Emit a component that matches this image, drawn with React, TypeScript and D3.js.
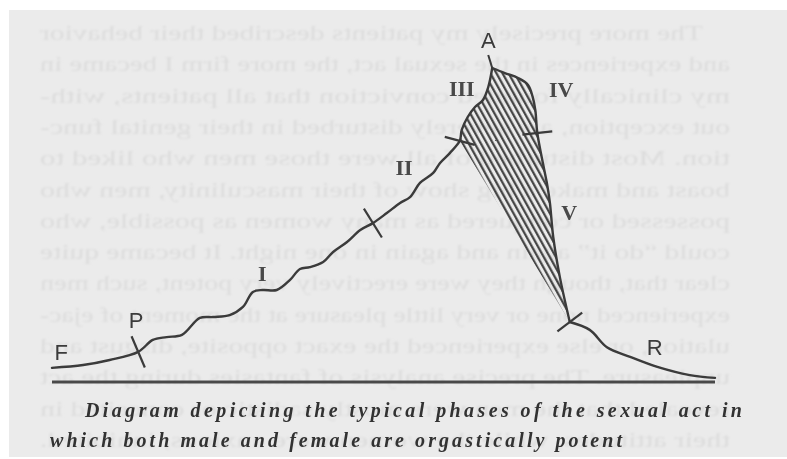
import React, { useRef, useEffect } from "react";
import * as d3 from "d3";

// curve of excitation over time, one array per phase (x = time, y = excitation)
const forepleasure: [number, number][] = [
  [0, 4.5], [4.7, 5.4], [8.7, 7.0], [13.0, 9.6],
];
const phaseI: [number, number][] = [
  [13.0, 9.6], [15.2, 13.4], [17.3, 14.3], [19.6, 15.0], [22.3, 20.4], [24.3, 20.7],
  [26.8, 21.3], [28.8, 23.9], [30.3, 28.7], [31.8, 29.3], [33.9, 29.3], [35.9, 32.5],
  [37.4, 36.0], [38.9, 36.6], [40.9, 38.2], [42.4, 41.4], [44.5, 44.6], [46.5, 48.4],
  [48.4, 50.6],
];
const phaseII: [number, number][] = [
  [48.4, 50.6], [50.5, 53.8], [52.5, 57.0], [54.0, 58.9], [55.5, 63.4], [57.5, 66.6],
  [58.5, 69.7], [60.0, 72.9], [61.5, 76.8],
];
const phaseIII: [number, number][] = [
  [61.5, 76.8], [61.8, 80.3], [62.7, 84.4], [63.8, 87.6], [65.0, 89.8], [65.8, 93.9],
  [66.4, 100],
];
const phaseIV: [number, number][] = [
  [66.4, 100], [68.3, 98.4], [70.3, 96.8], [71.8, 94.6], [72.5, 90.8], [72.9, 86.6],
  [73.2, 79.3],
];
const phaseV: [number, number][] = [
  [73.2, 79.3], [74.1, 69.1], [74.7, 62.7], [75.1, 57.0], [75.6, 46.2], [76.6, 33.4],
  [78.1, 19.1],
];
const resolution: [number, number][] = [
  [78.1, 19.1], [81.1, 16.6], [83.7, 11.1], [87.2, 8.0], [91.3, 4.8], [96.2, 2.2],
  [100, 1.3],
];

// phase boundaries marked with a short cross stroke
const boundaries = [
  { name: "P", x: 13.0, y: 9.6 },
  { name: "I-II", x: 48.4, y: 50.6 },
  { name: "II-III", x: 61.5, y: 76.8 },
  { name: "IV-V", x: 73.2, y: 79.3 },
  { name: "V-R", x: 78.1, y: 19.1 },
];

const letterLabels = [
  { text: "F", x: 1.4, y: 9.6 },
  { text: "P", x: 12.7, y: 19.7 },
  { text: "A", x: 65.8, y: 108.9 },
  { text: "R", x: 90.9, y: 11.1 },
];
const romanLabels = [
  { text: "I", x: 31.7, y: 34.7 },
  { text: "II", x: 53.1, y: 68.2 },
  { text: "III", x: 61.8, y: 93.6 },
  { text: "IV", x: 76.8, y: 93.3 },
  { text: "V", x: 78.0, y: 54.1 },
];

const captionLines = [
  "Diagram depicting the typical phases of the sexual act in",
  "which both male and female are orgastically potent",
];

// text of the facing page that shows through the paper (mirrored)
const showThrough = [
  "The more precisely my patients described their behavior",
  "and experiences in the sexual act, the more firm I became in",
  "my clinically founded conviction that all patients, with-",
  "out exception, are severely disturbed in their genital func-",
  "tion. Most disturbed of all were those men who liked to",
  "boast and make a big show of their masculinity, men who",
  "possessed or conquered as many women as possible, who",
  "could \u201cdo it\u201d again and again in one night. It became quite",
  "clear that, though they were erectively very potent, such men",
  "experienced none or very little pleasure at the moment of ejac-",
  "ulation, or else experienced the exact opposite, disgust and",
  "unpleasure. The precise analysis of fantasies during the act",
  "revealed that the men were mostly sadistic or conceited in",
  "their attitudes, while the women were anxious, inhibited.",
];

const W = 787;
const H = 459;

const App = () => {
  const svgRef = useRef<SVGSVGElement>(null);

  useEffect(() => {
    const svg = d3.select(svgRef.current);
    svg.selectAll("*").remove();

    const ink = "#3a3a3a";

    const x = d3.scaleLinear().domain([0, 100]).range([52, 715]);
    const y = d3.scaleLinear().domain([0, 100]).range([382, 68]);

    const defs = svg.append("defs");
    defs
      .append("filter")
      .attr("id", "soft")
      .append("feGaussianBlur")
      .attr("stdDeviation", 1.1);
    defs
      .append("filter")
      .attr("id", "scan")
      .append("feGaussianBlur")
      .attr("stdDeviation", 0.35);

    const pat = defs
      .append("pattern")
      .attr("id", "hatch")
      .attr("patternUnits", "userSpaceOnUse")
      .attr("width", 5.3)
      .attr("height", 10)
      .attr("patternTransform", "rotate(-29)");
    pat
      .append("line")
      .attr("x1", 1.2)
      .attr("x2", 1.2)
      .attr("y1", -1)
      .attr("y2", 11)
      .attr("stroke", ink)
      .attr("stroke-width", 2.1);

    // paper
    svg.append("rect").attr("width", W).attr("height", H).attr("fill", "#ffffff");
    svg
      .append("rect")
      .attr("x", 9)
      .attr("y", 10)
      .attr("width", W - 9)
      .attr("height", 447)
      .attr("fill", "#ebebeb");

    // faint mirrored show-through text
    const bleed = svg
      .append("g")
      .attr("transform", `translate(${W - 17},0) scale(-1,1)`)
      .attr("filter", "url(#soft)");
    bleed
      .selectAll("text")
      .data(showThrough)
      .join("text")
      .attr("x", (d, i) => (i === 0 ? 67 : 40))
      .attr("y", (d, i) => 40 + i * 31.3)
      .attr("textLength", (d, i) => (i === 0 ? 663 : 690))
      .attr("lengthAdjust", "spacingAndGlyphs")
      .style("font-family", "'Liberation Serif', serif")
      .style("font-size", "21px")
      .attr("fill", "#dcdcdc")
      .text((d) => d);

    const g = svg.append("g").attr("filter", "url(#scan)");

    // baseline
    g.append("line")
      .attr("x1", x(0))
      .attr("x2", x(100))
      .attr("y1", y(0))
      .attr("y2", y(0))
      .attr("stroke", "#4a4a4a")
      .attr("stroke-width", 3);

    // hatched area: phases III, IV and V
    const hatchPts = [...phaseIII, ...phaseIV.slice(1), ...phaseV.slice(1)];
    g.append("path")
      .attr(
        "d",
        d3
          .line<[number, number]>()
          .x((d) => x(d[0]))
          .y((d) => y(d[1]))
          .curve(d3.curveLinearClosed)(hatchPts)
      )
      .attr("fill", "url(#hatch)");

    const curve = d3
      .line<[number, number]>()
      .x((d) => x(d[0]))
      .y((d) => y(d[1]))
      .curve(d3.curveCatmullRom.alpha(0.5));

    const segments = [
      [...forepleasure, ...phaseI.slice(1), ...phaseII.slice(1), ...phaseIII.slice(1)],
      [...phaseIV, ...phaseV.slice(1)],
      resolution,
    ];
    g.selectAll("path.curve")
      .data(segments)
      .join("path")
      .attr("class", "curve")
      .attr("d", (d) => curve(d))
      .attr("fill", "none")
      .attr("stroke", ink)
      .attr("stroke-width", 2.4)
      .attr("stroke-linejoin", "round")
      .attr("stroke-linecap", "round");

    // acme stub above the peak
    const peak = phaseIII[phaseIII.length - 1];
    g.append("line")
      .attr("x1", x(peak[0]))
      .attr("y1", y(peak[1]))
      .attr("x2", x(peak[0]) - 4)
      .attr("y2", y(peak[1]) - 13)
      .attr("stroke", ink)
      .attr("stroke-width", 2);

    // cross strokes at phase boundaries
    const tickStyle: Record<string, { angle: number; len: number }> = {
      P: { angle: 67, len: 34 },
      "I-II": { angle: 58, len: 34 },
      "II-III": { angle: 15, len: 31 },
      "IV-V": { angle: -6, len: 30 },
      "V-R": { angle: -37, len: 31 },
    };
    g.selectAll("line.tick")
      .data(boundaries)
      .join("line")
      .attr("class", "tick")
      .attr("transform", (d) => `translate(${x(d.x)},${y(d.y)}) rotate(${tickStyle[d.name].angle})`)
      .attr("x1", (d) => -tickStyle[d.name].len / 2)
      .attr("x2", (d) => tickStyle[d.name].len / 2)
      .attr("stroke", ink)
      .attr("stroke-width", 2.2);

    // letters
    g.selectAll("text.letter")
      .data(letterLabels)
      .join("text")
      .attr("class", "letter")
      .attr("x", (d) => x(d.x))
      .attr("y", (d) => y(d.y))
      .attr("dy", "0.36em")
      .attr("text-anchor", "middle")
      .style("font-family", "'Liberation Sans', sans-serif")
      .style("font-size", "22px")
      .attr("fill", ink)
      .text((d) => d.text);

    // roman numerals
    g.selectAll("text.roman")
      .data(romanLabels)
      .join("text")
      .attr("class", "roman")
      .attr("x", (d) => x(d.x))
      .attr("y", (d) => y(d.y))
      .attr("dy", "0.34em")
      .attr("text-anchor", "middle")
      .style("font-family", "'Liberation Serif', serif")
      .style("font-size", "22px")
      .style("font-weight", "bold")
      .attr("fill", "#4a4a4a")
      .text((d) => d.text);

    // caption
    g.selectAll("text.caption")
      .data(captionLines)
      .join("text")
      .attr("class", "caption")
      .attr("x", (d, i) => (i === 0 ? 85 : 50))
      .attr("y", (d, i) => 417 + i * 30)
      .attr("textLength", (d, i) => (i === 0 ? 657 : 572))
      .attr("lengthAdjust", "spacing")
      .style("font-family", "'Liberation Serif', serif")
      .style("font-size", "20px")
      .style("font-style", "italic")
      .style("font-weight", "bold")
      .attr("fill", "#333333")
      .text((d) => d);
  }, []);

  return (
    <svg
      ref={svgRef}
      width={W}
      height={H}
      style={{ position: "absolute", left: 0, top: 0, display: "block" }}
    ></svg>
  );
};

export default App;
